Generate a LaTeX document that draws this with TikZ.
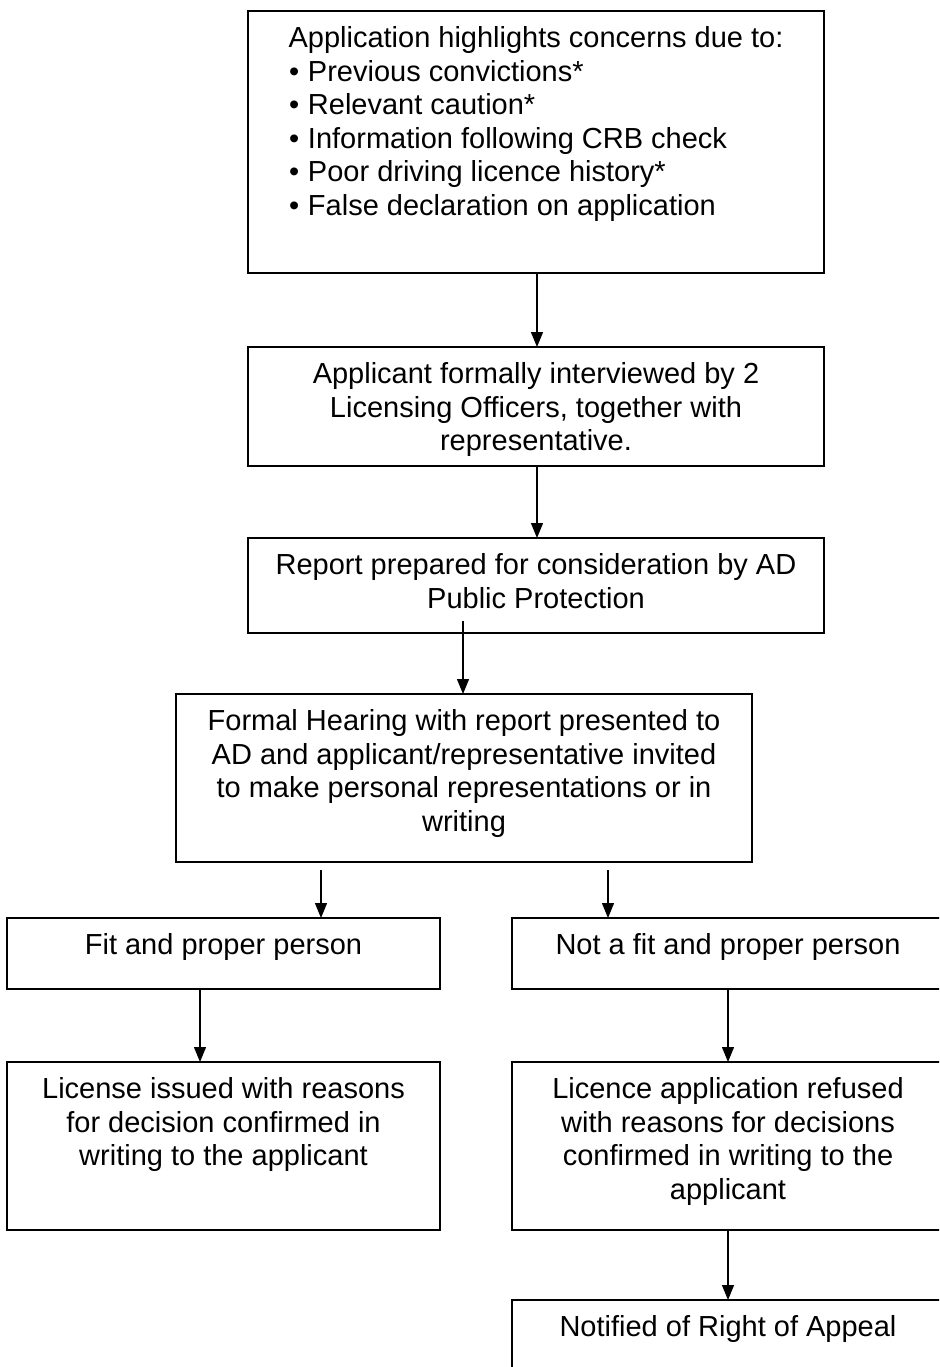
\documentclass[tikz,border=0pt]{standalone}
\usepackage{fontspec}
\setmainfont{Liberation Sans}
\usetikzlibrary{arrows.meta}
% text block of a flow box: width, height, centred lines from a fixed top inset
\newcommand\flowtext[3]{\parbox[c][#2pt][t]{#1pt}{\vspace*{13.5pt}\centering\strut #3}}
\newcommand\bulletline[1]{\makebox[20pt][l]{\hspace{1pt}\textbullet}#1\par}
\begin{document}
\begin{tikzpicture}[x=1pt,y=-1pt,
  font=\fontsize{29}{33.5}\selectfont,
  box/.style={draw, line width=1.8pt, inner sep=0pt, outer sep=0pt, anchor=north west},
  flow/.style={line width=1.3pt, -{Triangle[length=15pt,width=12pt]}}]
\useasboundingbox (0,0) rectangle (939,1367);
\clip (0,0) rectangle (939,1367);
\fill[white] (0,0) rectangle (939,1367);

% main column
\node[box] (b1) at (248,10.7) {\parbox[c][262.3pt][t]{576pt}{\vspace*{13.5pt}%
  {\centering\strut Application highlights concerns due to:\par}%
  \raggedright\leftskip=40pt
  \bulletline{Previous convictions*}
  \bulletline{Relevant caution*}
  \bulletline{Information following CRB check}
  \bulletline{Poor driving licence history*}
  \bulletline{False declaration on application}}};
\node[box] (b2) at (248,347) {\flowtext{576}{119}{Applicant formally interviewed by 2\\ Licensing Officers, together with\\ representative.}};
\node[box] (b3) at (248,538) {\flowtext{576}{95}{Report prepared for consideration by AD\\ Public Protection}};
\node[box] (b4) at (176,694) {\flowtext{576}{168}{Formal Hearing with report presented to\\ AD and applicant/representative invited\\ to make personal representations or in\\ writing}};

% outcome branches
\node[box] (b5) at (7,918) {\flowtext{433}{71}{Fit and proper person}};
\node[box] (b6) at (512,918) {\flowtext{432}{71}{Not a fit and proper person}};
\node[box] (b7) at (7,1062) {\flowtext{433}{168}{License issued with reasons\\ for decision confirmed in\\ writing to the applicant}};
\node[box] (b8) at (512,1062) {\flowtext{432}{168}{Licence application refused\\ with reasons for decisions\\ confirmed in writing to the\\ applicant}};
\node[box] (b9) at (512,1300) {\flowtext{432}{120}{Notified of Right of Appeal}};

% connectors
\coordinate (a12) at (537,0);
\coordinate (a34) at (463,621);
\coordinate (a45) at (321,870);
\coordinate (a46) at (608,870);
\coordinate (a57) at (200,0);
\coordinate (a68) at (728,0);
\draw[flow] (a12 |- b1.south) -- (a12 |- b2.north);
\draw[flow] (a12 |- b2.south) -- (a12 |- b3.north);
\draw[flow] (a34) -- (a34 |- b4.north);
\draw[flow] (a45) -- (a45 |- b5.north);
\draw[flow] (a46) -- (a46 |- b6.north);
\draw[flow] (a57 |- b5.south) -- (a57 |- b7.north);
\draw[flow] (a68 |- b6.south) -- (a68 |- b8.north);
\draw[flow] (a68 |- b8.south) -- (a68 |- b9.north);
\end{tikzpicture}
\end{document}
